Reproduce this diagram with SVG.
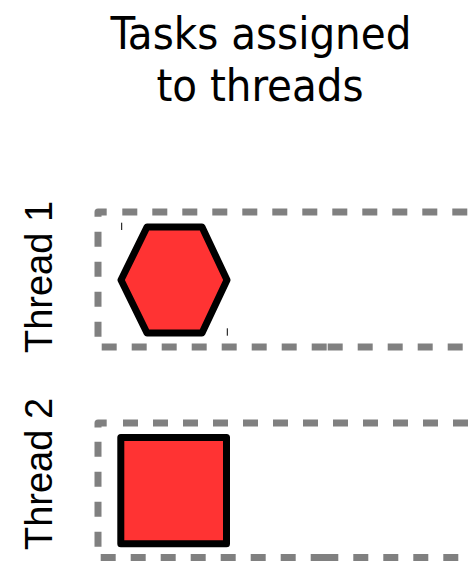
<svg xmlns="http://www.w3.org/2000/svg" width="473" height="562" viewBox="0 0 473 562">
  <style>
    .title { font-family: "DejaVu Sans Condensed", "DejaVu Sans", sans-serif; font-size: 45px; fill: #000; text-anchor: middle; }
    .lane-label { font-family: "Liberation Sans", Arial, sans-serif; font-size: 38px; fill: #000; text-anchor: middle; }
    .lane { fill: none; stroke: #808080; stroke-width: 7; stroke-dasharray: 15 15; }
    .corner { fill: none; stroke: #808080; stroke-width: 7; stroke-linejoin: round; }
    .task { fill: #FF3333; stroke: #000; stroke-width: 7; stroke-linejoin: round; }
    .tick { stroke: #000; stroke-width: 1; }
  </style>
  <rect width="473" height="562" fill="#fff"/>

  <!-- heading -->
  <g id="title">
    <text class="title" x="261" y="49">Tasks assigned</text>
    <text class="title" x="260" y="101">to threads</text>
  </g>

  <!-- lane 1 -->
  <g id="thread1-lane">
    <path class="corner" d="M98,216.7 L98,212 L106.7,212"/>
    <line class="lane" x1="122.3" y1="212" x2="480" y2="212"/>
    <line class="lane" x1="98" y1="231.7" x2="98" y2="347"/>
    <line class="lane" x1="101.7" y1="347" x2="326.7" y2="347"/>
    <line class="lane" x1="327.7" y1="347" x2="480" y2="347"/>
  </g>
  <g id="thread1-label">
    <text class="lane-label" transform="translate(52,277) rotate(-90)">Thread 1</text>
  </g>
  <g id="task-hexagon">
    <polygon class="task" points="121,280 147,227 202,227 227,280 202,333 147,333"/>
    <line class="tick" x1="121.7" y1="222.7" x2="121.7" y2="230"/>
    <line class="tick" x1="227.3" y1="328.3" x2="227.3" y2="335.7"/>
  </g>

  <!-- lane 2 -->
  <g id="thread2-lane">
    <path class="corner" d="M98,427.5 L98,423 L106.7,423"/>
    <line class="lane" x1="123" y1="423" x2="480" y2="423"/>
    <line class="lane" x1="98" y1="441.7" x2="98" y2="557.5"/>
    <line class="lane" x1="100.7" y1="557.5" x2="325" y2="557.5"/>
    <line class="lane" x1="323.3" y1="557.5" x2="480" y2="557.5"/>
  </g>
  <g id="thread2-label">
    <text class="lane-label" transform="translate(52,474) rotate(-90)">Thread 2</text>
  </g>
  <g id="task-square">
    <rect class="task" x="120.8" y="437.5" width="105.7" height="106.3"/>
  </g>
</svg>
